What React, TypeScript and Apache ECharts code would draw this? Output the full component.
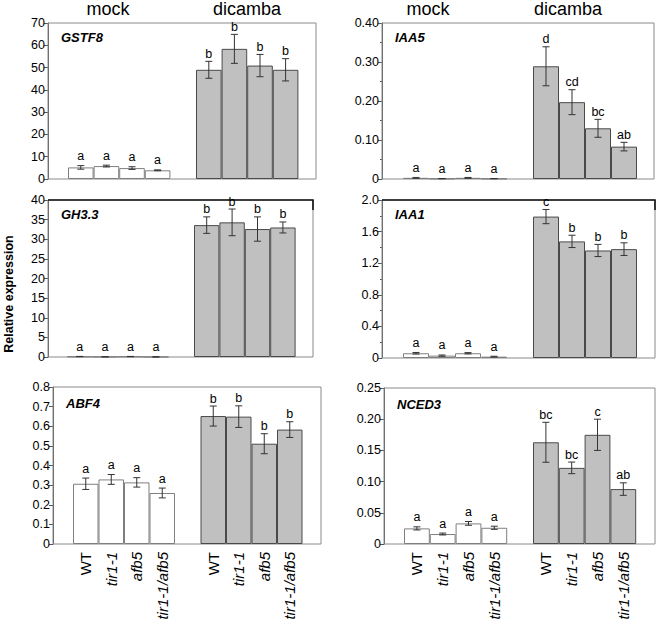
import React, { useEffect, useRef } from "react";
import * as echarts from "echarts";

// ---- data ----
const genotypes = ["WT", "tir1-1", "afb5", "tir1-1/afb5"];
const groupTitles = ["mock", "dicamba"];
const genes = ["GSTF8", "IAA5", "GH3.3", "IAA1", "ABF4", "NCED3"];
const yLabel = "Relative expression";

const gstf8Mock = [5.2, 5.8, 4.9, 3.9];
const gstf8MockErr = [0.8, 0.4, 0.6, 0.2];
const gstf8Dicamba = [49.0, 58.4, 50.9, 49.0];
const gstf8DicambaErr = [3.8, 6.5, 5.0, 5.0];
const gstf8Letters = ["a", "a", "a", "a", "b", "b", "b", "b"];

const iaa5Mock = [0.003, 0.001, 0.003, 0.001];
const iaa5MockErr = [0.001, 0.0, 0.001, 0.0];
const iaa5Dicamba = [0.289, 0.197, 0.13, 0.083];
const iaa5DicambaErr = [0.05, 0.032, 0.023, 0.011];
const iaa5Letters = ["a", "a", "a", "a", "d", "cd", "bc", "ab"];

const gh33Mock = [0.12, 0.05, 0.12, 0.03];
const gh33MockErr = [0.03, 0.02, 0.03, 0.01];
const gh33Dicamba = [33.6, 34.3, 32.6, 33.0];
const gh33DicambaErr = [2.1, 3.4, 3.1, 1.4];
const gh33Letters = ["a", "a", "a", "a", "b", "b", "b", "b"];

const iaa1Mock = [0.06, 0.03, 0.06, 0.017];
const iaa1MockErr = [0.01, 0.008, 0.008, 0.005];
const iaa1Dicamba = [1.79, 1.476, 1.361, 1.378];
const iaa1DicambaErr = [0.09, 0.078, 0.077, 0.08];
const iaa1Letters = ["a", "a", "a", "a", "c", "b", "b", "b"];

const abf4Mock = [0.307, 0.329, 0.314, 0.26];
const abf4MockErr = [0.029, 0.025, 0.024, 0.025];
const abf4Dicamba = [0.652, 0.649, 0.511, 0.583];
const abf4DicambaErr = [0.051, 0.055, 0.051, 0.04];
const abf4Letters = ["a", "a", "a", "a", "b", "b", "b", "b"];

const nced3Mock = [0.025, 0.016, 0.033, 0.026];
const nced3MockErr = [0.0025, 0.0015, 0.003, 0.0025];
const nced3Dicamba = [0.163, 0.122, 0.175, 0.088];
const nced3DicambaErr = [0.032, 0.0093, 0.025, 0.01];
const nced3Letters = ["a", "a", "a", "a", "bc", "bc", "c", "ab"];

const yMax = [70, 0.4, 40, 2.0, 0.8, 0.25];
const yInterval = [10, 0.1, 5, 0.4, 0.1, 0.05];
const yDecimals = [0, 2, 0, 1, 1, 2];
const yMinor = [false, true, false, true, false, false];

const panelData = [
  [gstf8Mock, gstf8MockErr, gstf8Dicamba, gstf8DicambaErr, gstf8Letters],
  [iaa5Mock, iaa5MockErr, iaa5Dicamba, iaa5DicambaErr, iaa5Letters],
  [gh33Mock, gh33MockErr, gh33Dicamba, gh33DicambaErr, gh33Letters],
  [iaa1Mock, iaa1MockErr, iaa1Dicamba, iaa1DicambaErr, iaa1Letters],
  [abf4Mock, abf4MockErr, abf4Dicamba, abf4DicambaErr, abf4Letters],
  [nced3Mock, nced3MockErr, nced3Dicamba, nced3DicambaErr, nced3Letters],
] as any[];

// ---- layout (frame left/right/top/bottom, first bar left, slot width) ----
const frames = [
  { L: 48, R: 316, T: 23, B: 179, bx: 68, s: 25.6 },
  { L: 382, R: 654, T: 23, B: 179, bx: 403, s: 26 },
  { L: 48, R: 313, T: 200, B: 357, bx: 67, s: 25.4 },
  { L: 382, R: 655, T: 200, B: 358, bx: 403, s: 26 },
  { L: 53, R: 321, T: 387, B: 544, bx: 73, s: 25.5 },
  { L: 384, R: 655, T: 388, B: 544, bx: 404, s: 25.8 },
];

const FONT = "Arial, 'Liberation Sans', sans-serif";
const axisCats = [...genotypes, "", ...genotypes];

function buildOption() {
  const grid: any[] = [];
  const xAxis: any[] = [];
  const yAxis: any[] = [];
  const series: any[] = [];
  const graphic: any[] = [];

  frames.forEach((f, i) => {
    const [mock, mockErr, dic, dicErr, letters] = panelData[i];
    grid.push({
      left: f.bx,
      top: f.T,
      width: f.s * 9,
      height: f.B - f.T,
      containLabel: false,
    });
    const bottom = i >= 4;
    xAxis.push({
      gridIndex: i,
      type: "category",
      data: axisCats,
      axisLine: { show: false },
      axisTick: { show: false },
      splitLine: { show: false },
      axisLabel: {
        show: bottom,
        interval: 0,
        rotate: 90,
        margin: 8,
        color: "#000",
        fontSize: 15,
        fontFamily: FONT,
        formatter: (v: string) => (v === "WT" ? `{n|${v}}` : v ? `{i|${v}}` : ""),
        rich: {
          n: { fontSize: 15, fontFamily: FONT, color: "#000" },
          i: { fontSize: 15, fontFamily: FONT, color: "#000", fontStyle: "italic" },
        },
      },
    });
    const dec = yDecimals[i];
    yAxis.push({
      gridIndex: i,
      type: "value",
      min: 0,
      max: yMax[i],
      interval: yInterval[i],
      offset: f.bx - f.L,
      axisLine: { show: true, lineStyle: { color: "#555", width: 1 } },
      axisTick: { show: true, length: 4, lineStyle: { color: "#555" } },
      minorTick: { show: yMinor[i], splitNumber: 2, length: 2, lineStyle: { color: "#555" } },
      splitLine: { show: false },
      axisLabel: {
        color: "#000",
        fontSize: 12.5,
        fontFamily: FONT,
        margin: 3,
        formatter: (v: number) => (v === 0 ? "0" : v.toFixed(dec)),
      },
    });
    const pad = ["-", "-", "-", "-", "-"];
    series.push({
      type: "bar",
      xAxisIndex: i,
      yAxisIndex: i,
      data: [...mock, ...pad],
      barWidth: "100%",
      barGap: "-100%",
      itemStyle: { color: "#ffffff", borderColor: "#7f7f7f", borderWidth: 1 },
      z: 2,
    });
    series.push({
      type: "bar",
      xAxisIndex: i,
      yAxisIndex: i,
      data: [...pad, ...dic],
      barWidth: "100%",
      barGap: "-100%",
      itemStyle: { color: "#c0c0c0", borderColor: "#4a4a4a", borderWidth: 1 },
      z: 2,
    });
    const errData: any[] = [];
    mock.forEach((m: number, k: number) => errData.push([k, m - mockErr[k], m + mockErr[k], k]));
    dic.forEach((d: number, k: number) => errData.push([k + 5, d - dicErr[k], d + dicErr[k], k + 4]));
    series.push({
      type: "custom",
      xAxisIndex: i,
      yAxisIndex: i,
      data: errData,
      z: 5,
      renderItem: (params: any, api: any) => {
        const x = api.value(0);
        const lo = api.coord([x, api.value(1)]);
        const hi = api.coord([x, api.value(2)]);
        const cap = 3.5;
        const st = { stroke: "#333", lineWidth: 1 };
        const isMock = api.value(3) < 4;
        return {
          type: "group",
          children: [
            { type: "line", shape: { x1: lo[0], y1: lo[1], x2: hi[0], y2: hi[1] }, style: st },
            { type: "line", shape: { x1: lo[0] - cap, y1: lo[1], x2: lo[0] + cap, y2: lo[1] }, style: st },
            { type: "line", shape: { x1: hi[0] - cap, y1: hi[1], x2: hi[0] + cap, y2: hi[1] }, style: st },
            {
              type: "text",
              style: {
                text: letters[api.value(3)],
                x: hi[0],
                y: hi[1] - (isMock ? 3 : 1),
                align: "center",
                verticalAlign: "bottom",
                font: `12.5px ${FONT}`,
                fill: "#000",
              },
            },
          ],
        };
      },
    });

    // frame
    graphic.push({
      type: "rect",
      shape: { x: f.L, y: f.T, width: f.R - f.L, height: f.B - f.T },
      style: { fill: "none", stroke: "#8a8a8a", lineWidth: 1 },
      z: 1,
    });
    if (i === 2 || i === 3) {
      graphic.push({
        type: "polyline",
        shape: { points: [[f.L, f.T], [f.R, f.T], [f.R, f.T + 10]] },
        style: { fill: "none", stroke: "#111", lineWidth: 1.6 },
        z: 1,
      });
    }
    // gene name
    graphic.push({
      type: "text",
      x: f.L + 13,
      y: f.T + (i >= 4 ? 16 : 14),
      style: {
        text: genes[i],
        font: `italic bold 13px ${FONT}`,
        fill: "#000",
        align: "left",
        verticalAlign: "middle",
      },
      z: 10,
    });
  });

  // group titles
  const titlePos = [
    [108, 247],
    [428, 568],
  ];
  titlePos.forEach((row) =>
    row.forEach((x, k) =>
      graphic.push({
        type: "text",
        x,
        y: 8.5,
        style: {
          text: groupTitles[k],
          font: `18px ${FONT}`,
          fill: "#000",
          align: "center",
          verticalAlign: "middle",
        },
      })
    )
  );
  graphic.push({
    type: "text",
    x: 9,
    y: 294,
    rotation: Math.PI / 2,
    style: {
      text: yLabel,
      font: `bold 12.5px ${FONT}`,
      fill: "#000",
      align: "center",
      verticalAlign: "middle",
    },
  });

  return {
    animation: false,
    backgroundColor: "#ffffff",
    grid,
    xAxis,
    yAxis,
    series,
    graphic,
  };
}

export default function App() {
  const ref = useRef<HTMLDivElement>(null);
  useEffect(() => {
    document.body.style.margin = "0";
    if (!ref.current) return;
    const chart = echarts.init(ref.current, undefined, { renderer: "svg" });
    chart.setOption(buildOption() as any);
    return () => chart.dispose();
  }, []);
  return <div ref={ref} style={{ width: 661, height: 629, position: "absolute", left: 0, top: 0 }} />;
}
